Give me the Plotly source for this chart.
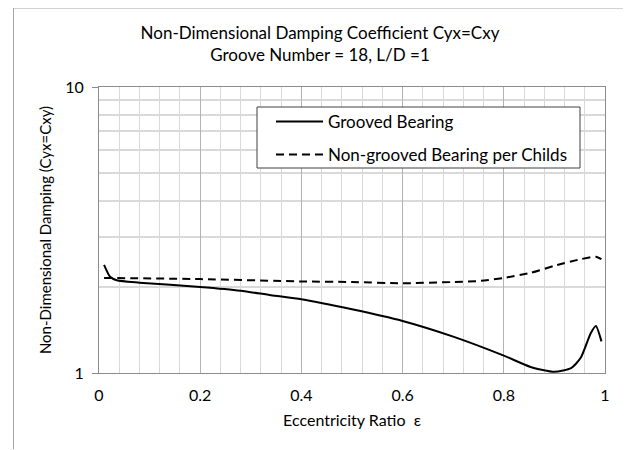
import plotly.graph_objects as go

# Grooved bearing (solid)
ecc_grooved = [0.01, 0.022, 0.035, 0.08, 0.2, 0.28, 0.34, 0.4, 0.5, 0.6, 0.7, 0.8,
               0.853, 0.9, 0.933, 0.952, 0.972, 0.982, 0.993]
damp_grooved = [2.39, 2.17, 2.11, 2.07, 2.00, 1.94, 1.87, 1.81, 1.67, 1.52, 1.34, 1.15,
                1.05, 1.01, 1.04, 1.13, 1.38, 1.46, 1.29]

# Non-grooved bearing per Childs (dashed)
ecc_childs = [0.01, 0.2, 0.4, 0.5, 0.6, 0.7, 0.755, 0.8, 0.853, 0.9, 0.952, 0.982, 0.993]
damp_childs = [2.15, 2.13, 2.09, 2.08, 2.06, 2.08, 2.10, 2.15, 2.24, 2.37, 2.50, 2.55, 2.50]

x_ticks = [0, 0.2, 0.4, 0.6, 0.8, 1]
x_ticktext = ["0", "0.2", "0.4", "0.6", "0.8", "1"]
y_ticks = [1, 10]
y_minor = [2, 3, 4, 5, 6, 7, 8, 9]
x_minor = [i * 0.04 for i in range(26)]

FONT = "Lato"
OFF = 8  # browser body margin

fig = go.Figure()
fig.add_trace(go.Scatter(x=ecc_grooved, y=damp_grooved, mode="lines", name="Grooved Bearing",
                         line=dict(color="black", width=2, shape="spline", smoothing=0.6),
                         legend="legend", showlegend=True))
fig.add_trace(go.Scatter(x=ecc_childs, y=damp_childs, mode="lines",
                         name="Non-grooved Bearing per Childs",
                         line=dict(color="black", width=2, dash="8px,5px", shape="spline", smoothing=0.6),
                         legend="legend2", showlegend=True))

W, H = 631 - OFF, 450 - OFF
L, T = 99 - OFF, 87 - OFF
R, B = 631 - 605, 450 - 373
pw, ph = W - L - R, H - T - B

def px(x):
    return (x - OFF - L) / pw

def py(y):
    return (H - B - (y - OFF)) / ph

legend_common = dict(bgcolor="rgba(0,0,0,0)", borderwidth=0, itemwidth=47,
                     font=dict(family=FONT, size=17, color="black"),
                     xanchor="left", yanchor="middle")

fig.update_layout(
    width=W, height=H,
    margin=dict(l=L, r=R, t=T, b=B),
    paper_bgcolor="white", plot_bgcolor="white",
    showlegend=True,
    font=dict(family=FONT, size=15, color="black"),
    title=dict(text="Non-Dimensional Damping Coefficient Cyx=Cxy<br>Groove Number = 18, L/D =1",
               x=(320 - OFF) / W, xanchor="center", xref="container",
               y=1 - 31 / H, yanchor="top", yref="container",
               font=dict(family=FONT, size=17, color="black")),
    legend=dict(x=px(271), y=py(122), **legend_common),
    legend2=dict(x=px(271), y=py(155), **legend_common),
    xaxis=dict(range=[0, 1], tickvals=x_ticks, ticktext=x_ticktext,
               showgrid=True, gridcolor="#b3b3b3", gridwidth=1,
               minor=dict(tickvals=x_minor, showgrid=True, gridcolor="#d9d9d9", gridwidth=1),
               showline=True, linecolor="#8c8c8c", linewidth=1, mirror=True,
               ticks="", ticklabelstandoff=8, zeroline=False,
               tickfont=dict(family=FONT, size=16, color="black"),
               title=dict(text="Eccentricity Ratio \u00a0ε", standoff=11,
                          font=dict(family=FONT, size=16, color="black"))),
    yaxis=dict(type="log", range=[0, 1], tickvals=y_ticks, ticktext=["1", "10"],
               showgrid=True, gridcolor="#b3b3b3", gridwidth=1,
               minor=dict(tickvals=y_minor, showgrid=True, gridcolor="#d9d9d9", gridwidth=1.5),
               showline=True, linecolor="#8c8c8c", linewidth=1, mirror=True,
               ticks="outside", ticklen=6, tickcolor="#8c8c8c", ticklabelstandoff=5,
               tickfont=dict(family=FONT, size=16, color="black"),
               title=dict(text="Non-Dimensional Damping (Cyx=Cxy)", standoff=9,
                          font=dict(family=FONT, size=15, color="black"))),
    shapes=[
        dict(type="rect", xref="paper", yref="paper",
             x0=px(257), x1=px(580), y0=py(168), y1=py(107),
             line=dict(color="#404040", width=1), fillcolor="white", layer="above"),
        dict(type="line", xref="paper", yref="paper",
             x0=px(13.5), x1=px(13.5), y0=py(8), y1=py(449),
             line=dict(color="#a6a6a6", width=1), layer="above"),
        dict(type="line", xref="paper", yref="paper",
             x0=px(13.5), x1=px(629), y0=py(8), y1=py(8),
             line=dict(color="#a6a6a6", width=1), layer="above"),
        dict(type="line", xref="paper", yref="paper",
             x0=px(629), x1=px(629), y0=py(8), y1=py(449),
             line=dict(color="#a6a6a6", width=1), layer="above"),
    ],
)

fig.write_html("out.html")
